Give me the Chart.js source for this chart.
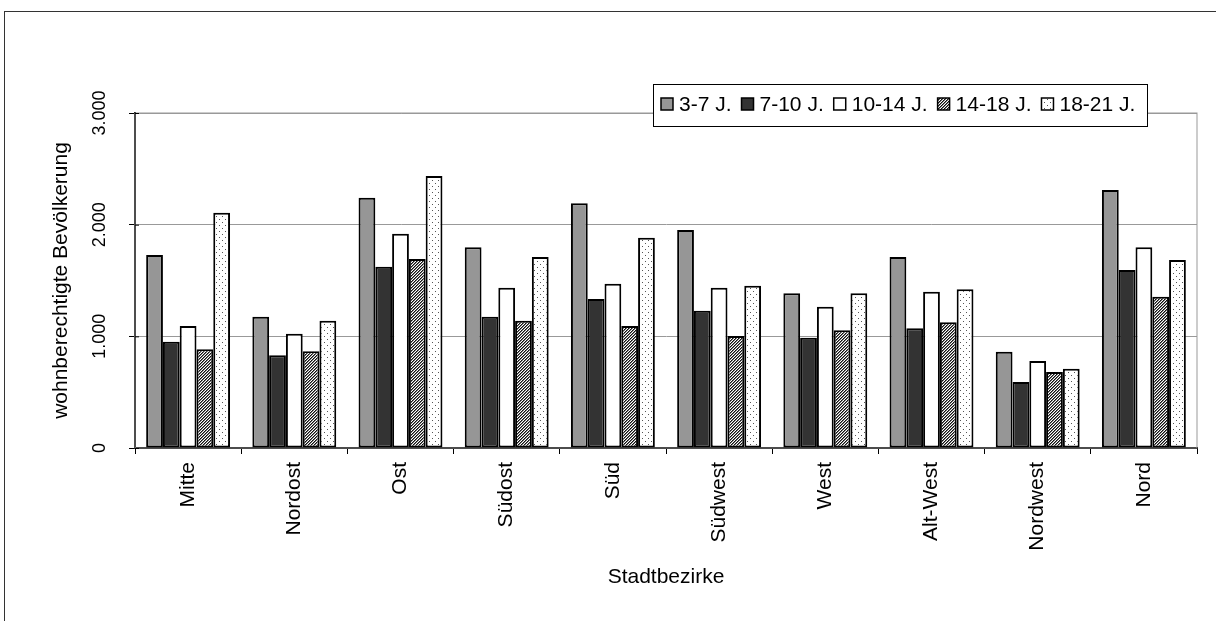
<!DOCTYPE html>
<html>
<head>
<meta charset="utf-8">
<script src="https://cdn.jsdelivr.net/npm/chart.js@4/dist/chart.umd.min.js"></script>
<style>
  html, body { margin: 0; padding: 0; background: #fff; overflow: hidden; }
  #frame { position: absolute; left: 4px; top: 11px; width: 1400px; height: 800px; border: 1px solid #333; }
  #mycanvas { position: absolute; left: 0; top: 0; }
</style>
</head>
<body>
<div id="frame"></div>
<canvas id="mycanvas" width="1216" height="621"></canvas>
<script>
var categories = ['Mitte', 'Nordost', 'Ost', 'Südost', 'Süd', 'Südwest', 'West', 'Alt-West', 'Nordwest', 'Nord'];
var seriesNames = ['3-7 J.', '7-10 J.', '10-14 J.', '14-18 J.', '18-21 J.'];
var age3to7   = [1728, 1176, 2242, 1797, 2191, 1952, 1385, 1710, 862, 2310];
var age7to10  = [952, 830, 1624, 1176, 1334, 1230, 988, 1072, 591, 1594];
var age10to14 = [1092, 1024, 1919, 1436, 1471, 1436, 1266, 1400, 779, 1797];
var age14to18 = [884, 866, 1693, 1140, 1092, 1003, 1054, 1126, 681, 1355];
var age18to21 = [2107, 1140, 2436, 1710, 1883, 1454, 1385, 1421, 710, 1684];
var yTickValues = [0, 1000, 2000, 3000];
var yTickLabels = ['0', '1.000', '2.000', '3.000'];

var FONT = '"Liberation Sans", Arial, sans-serif';

// small fill patterns like the old excel ones
function makePattern(size, draw) {
	var c = document.createElement('canvas');
	c.width = size; c.height = size;
	var g = c.getContext('2d');
	g.fillStyle = '#fff';
	g.fillRect(0, 0, size, size);
	draw(g);
	return c.getContext('2d').createPattern(c, 'repeat');
}
var hatch = makePattern(3, function(g) {
	g.fillStyle = '#111';
	var px = [[2,0],[1,1],[0,2]];
	for (var i in px) g.fillRect(px[i][0], px[i][1], 1, 1);
	g.fillStyle = '#777';
	var px2 = [[0,0],[2,1],[1,2]];
	for (var j in px2) g.fillRect(px2[j][0], px2[j][1], 1, 1);
});
var dots = makePattern(6, function(g) {
	g.fillStyle = '#555';
	g.fillRect(0, 0, 1, 1);
	g.fillRect(3, 3, 1, 1);
});

var fills = ['#969696', '#333333', '#ffffff', hatch, dots];
var values = [age3to7, age7to10, age10to14, age14to18, age18to21];

var datasets = [];
for (var i in seriesNames) {
	datasets.push({
		label: seriesNames[i],
		data: values[i],
		backgroundColor: fills[i],
		borderColor: '#000',
		borderWidth: 2,
		borderSkipped: false,
		categoryPercentage: 0.79,
		barPercentage: 1.0
	});
}

var plotFrame = {
	id: 'plotFrame',
	beforeDatasetsDraw: function(chart) {
		var a = chart.chartArea, ctx = chart.ctx;
		ctx.save();
		ctx.strokeStyle = '#999';
		ctx.lineWidth = 1;
		ctx.strokeRect(a.left, a.top, a.right - a.left, a.bottom - a.top);
		ctx.restore();
	}
};

var yLabels = {
	id: 'yLabels',
	afterDraw: function(chart) {
		var s = chart.scales.y, ctx = chart.ctx;
		ctx.save();
		ctx.font = '18px ' + FONT;
		ctx.fillStyle = '#000';
		ctx.textAlign = 'center';
		ctx.textBaseline = 'middle';
		for (var i = 0; i < yTickValues.length; i++) {
			var y = s.getPixelForValue(yTickValues[i]);
			ctx.save();
			ctx.translate(100, y);
			ctx.rotate(-Math.PI / 2);
			ctx.fillText(yTickLabels[i], 0, 0);
			ctx.restore();
			// tick crosses the axis a bit
			ctx.strokeStyle = '#000';
			ctx.lineWidth = 1;
			ctx.beginPath();
			ctx.moveTo(s.right, y + 0.5);
			ctx.lineTo(s.right + 4, y + 0.5);
			ctx.stroke();
		}
		ctx.restore();
	}
};

var boxLegend = {
	id: 'boxLegend',
	afterDraw: function(chart) {
		var ctx = chart.ctx;
		ctx.save();
		ctx.fillStyle = '#fff';
		ctx.fillRect(653, 84, 494, 42);
		ctx.strokeStyle = '#000';
		ctx.lineWidth = 1;
		ctx.strokeRect(653.5, 84.5, 494, 42);
		ctx.font = '21px ' + FONT;
		ctx.textBaseline = 'middle';
		var x = 661;
		chart.data.datasets.forEach(function(ds) {
			ctx.fillStyle = ds.backgroundColor;
			ctx.fillRect(x, 98, 12, 12);
			ctx.strokeStyle = '#000';
			ctx.lineWidth = 1.5;
			ctx.strokeRect(x, 98, 12, 12);
			ctx.fillStyle = '#000';
			ctx.fillText(ds.label, x + 18, 105);
			x += 18 + ctx.measureText(ds.label).width + 10;
		});
		ctx.restore();
	}
};

var ctx = document.getElementById('mycanvas');
var barGraph = new Chart(ctx, {
	type: 'bar',
	data: { labels: categories, datasets: datasets },
	plugins: [plotFrame, yLabels, boxLegend],
	options: {
		responsive: false,
		animation: false,
		layout: { padding: { top: 113, right: 19, left: 0, bottom: 0 } },
		plugins: { legend: { display: false }, tooltip: { enabled: false } },
		scales: {
			x: {
				afterFit: function(s) { s.height = 173; },
				grid: { display: true, drawOnChartArea: false, color: '#000', tickLength: 6 },
				border: { color: '#000', width: 2 },
				ticks: { minRotation: 90, maxRotation: 90, padding: 8, color: '#000', font: { family: FONT, size: 21 } },
				title: { display: true, text: 'Stadtbezirke', color: '#000', font: { family: FONT, size: 21 }, padding: { top: 0, bottom: 31 } }
			},
			y: {
				min: 0, max: 3000,
				afterFit: function(s) { s.width = 135; },
				afterBuildTicks: function(s) { s.ticks = yTickValues.map(function(v) { return { value: v }; }); },
				grid: { color: '#999', tickColor: '#000', tickLength: 6 },
				border: { color: '#000', width: 2 },
				ticks: { display: false },
				title: { display: true, text: 'wohnberechtigte Bevölkerung', color: '#000', font: { family: FONT, size: 21 }, padding: { top: 49, bottom: 0 } }
			}
		}
	}
});
</script>
</body>
</html>
